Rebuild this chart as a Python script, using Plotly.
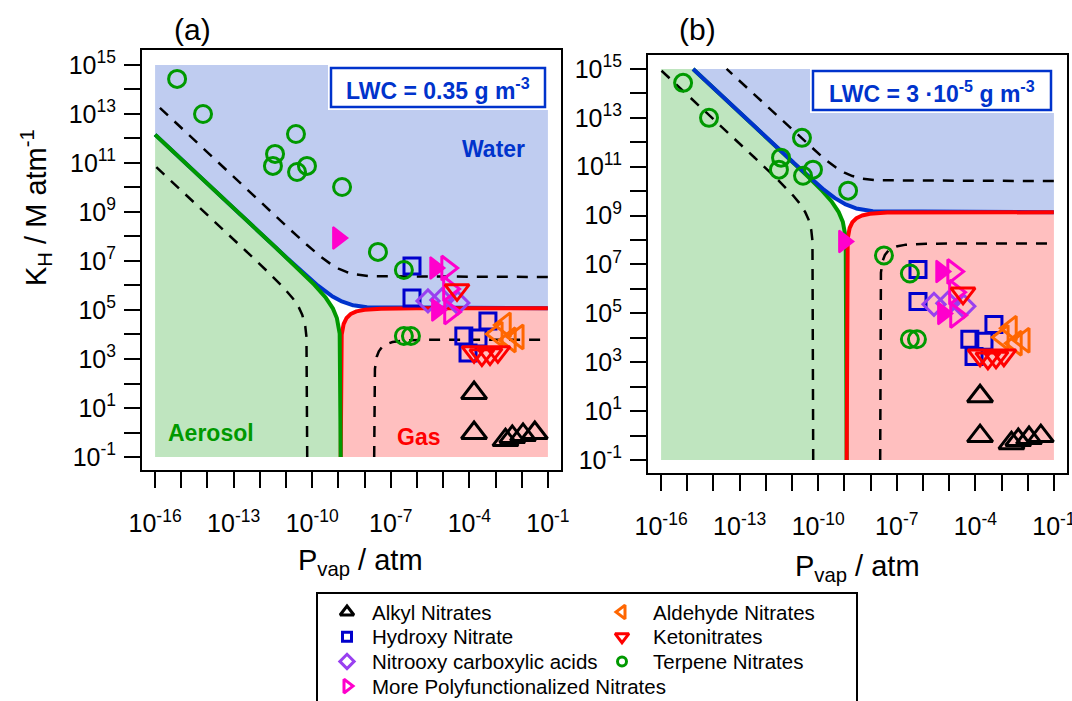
import numpy as np
import plotly.graph_objects as go

W, H = 1072, 701

# ---------------- chart values ----------------
PANEL_LABELS = ["(a)", "(b)"]
LWC_G_M3 = [0.35, 3e-5]                     # liquid water content, panels (a) and (b)
LWC_LABELS = ["LWC = 0.35 g m<sup>-3</sup>", "LWC = 3 ·10<sup>-5</sup> g m<sup>-3</sup>"]
C_OA_UG_M3 = 10.0                            # organic aerosol mass
MOLAR_MASS = 200.0                           # g/mol
TEMP_K = 298.0
R_L_ATM = 0.08206                            # L atm / (mol K)
FRAC_SOLID = 0.5                             # 50 % contours (coloured)
FRAC_DASHED = 0.95                           # 95 % contours (dashed)
REGION_LABELS = ["Water", "Aerosol", "Gas"]

X_TICK_EXP = list(range(-16, 0))
X_LABEL_EXP = [-16, -13, -10, -7, -4, -1]
Y_TICK_EXP = list(range(-1, 16))
Y_LABEL_EXP = [-1, 1, 3, 5, 7, 9, 11, 13, 15]
X_TITLE = "P<sub>vap</sub> / atm"
Y_TITLE = "K<sub>H</sub> / M atm<sup>-1</sup>"

# compound classes: log10(Pvap / atm), log10(KH / M atm-1)
alkyl_logP = [-3.82, -3.82, -2.62, -2.36, -1.95, -1.50]
alkyl_logKH = [1.61, -0.02, -0.31, -0.18, -0.10, -0.02]
hydroxy_logP = [-6.19, -6.19, -3.29, -4.21, -3.67, -4.05]
hydroxy_logKH = [6.80, 5.49, 4.55, 3.94, 3.86, 3.24]
nitrooxy_logP = [-5.58, -5.05, -4.44]
nitrooxy_logKH = [5.37, 5.41, 5.29]
poly_logP = [-4.85, -4.78, -4.74]
poly_logKH = [6.71, 5.86, 4.92]
poly_solid_logP = [-9.02, -5.31, -5.24]
poly_solid_logKH = [7.94, 6.71, 5.00]
aldehyde_logP = [-2.64, -2.95, -2.45, -2.15]
aldehyde_logKH = [4.39, 4.02, 3.78, 3.90]
keto_logP = [-4.47, -3.82, -3.52, -3.21, -2.91]
keto_logKH = [5.82, 3.29, 3.16, 3.20, 3.29]
terpene_logP = [-15.16, -14.17, -11.42, -11.50, -10.62, -10.58, -10.20, -8.86, -7.49, -6.50, -6.50, -6.23]
terpene_logKH = [14.43, 13.00, 11.37, 10.88, 12.18, 10.63, 10.88, 10.02, 7.37, 6.63, 3.94, 3.94]

# ---------------- styles ----------------
FONT = "Arial, Liberation Sans, sans-serif"
BLUE_FILL, GREEN_FILL, PINK_FILL = "#BFCCF0", "#BFE5BF", "#FFBFBF"
BLUE_LINE, GREEN_LINE, RED_LINE = "#0033CC", "#009900", "#FF0000"

SERIES = [
    dict(name="Alkyl Nitrates", P=alkyl_logP, K=alkyl_logKH, sym="triangle-up-open", col="black", size=22, lsize=12, leg=(0, 0)),
    dict(name="Hydroxy Nitrate", P=hydroxy_logP, K=hydroxy_logKH, sym="square-open", col="#0000CC", size=16, lsize=9, leg=(0, 1)),
    dict(name="Nitrooxy carboxylic acids", P=nitrooxy_logP, K=nitrooxy_logKH, sym="diamond-open", col="#9940F0", size=17, lsize=11, leg=(0, 2)),
    dict(name="More Polyfunctionalized Nitrates", P=poly_logP, K=poly_logKH, sym="triangle-right-open", col="#FF00CC", size=21, lsize=12, leg=(0, 3),
         solidP=poly_solid_logP, solidK=poly_solid_logKH, solidsym="triangle-right"),
    dict(name="Aldehyde Nitrates", P=aldehyde_logP, K=aldehyde_logKH, sym="triangle-left-open", col="#FF6600", size=21, lsize=12, leg=(1, 0)),
    dict(name="Ketonitrates", P=keto_logP, K=keto_logKH, sym="triangle-down-open", col="#FF0000", size=21, lsize=12, leg=(1, 1)),
    dict(name="Terpene Nitrates", P=terpene_logP, K=terpene_logKH, sym="circle-open", col="#009900", size=17, lsize=9, leg=(1, 2)),
]

PMIN, PMAX = 10.0 ** X_TICK_EXP[0], 10.0 ** X_TICK_EXP[-1]
KMIN, KMAX = 10.0 ** Y_TICK_EXP[0], 10.0 ** Y_TICK_EXP[-1]
TAU = np.linspace(-26, 26, 10001)

A_ATM = C_OA_UG_M3 * 1e-6 * (R_L_ATM * 1e-3) * TEMP_K / MOLAR_MASS


def partition_curve(phase, frac, A, B):
    """Contour where `phase` holds fraction `frac` (gas : aerosol : water = 1 : A/P : B*KH)."""
    r = frac / (1.0 - frac)
    e = 10.0 ** TAU
    if phase == "aer":
        w = e
        a = r * (1.0 + w)
    elif phase == "wat":
        a = e
        w = r * (1.0 + a)
    else:
        a = 1.0 / (r * (1.0 + e))
        w = e / (r * (1.0 + e))
    return A / a, w / B


def inside(P, K):
    m = (P >= PMIN * 0.999) & (P <= PMAX * 1.001) & (K >= KMIN * 0.999) & (K <= KMAX * 1.001)
    return P[m], K[m]


def clipped(P, K):
    return np.clip(P, PMIN, PMAX), np.clip(K, KMIN, KMAX)


def px(x):
    return x / W


def py(y):
    return 1 - y / H


# panel geometry (pixels)
X_DOMAINS = [(142, 561), (648, 1067)]
Y_DOMAINS = [(50, 470), (55, 473)]
Y_RANGES = [(-1.53, 15.61), (-1.53, 15.57)]
LINE_ORDER = [["wat", "gas", "aer"], ["aer", "wat", "gas"]]
LINE_COLORS = {"wat": BLUE_LINE, "aer": GREEN_LINE, "gas": RED_LINE}

fig = go.Figure()

for i, lwc in enumerate(LWC_G_M3):
    xa, ya = ("x", "y") if i == 0 else ("x2", "y2")
    B = R_L_ATM * TEMP_K * lwc * 1e-6

    # shaded regions
    Pw, Kw = clipped(*partition_curve("wat", FRAC_SOLID, A_ATM, B))
    fig.add_trace(go.Scatter(x=np.r_[Pw, PMIN, PMAX], y=np.r_[Kw, KMAX, KMAX], mode="lines", fill="toself",
                             fillcolor=BLUE_FILL, line=dict(width=0), xaxis=xa, yaxis=ya, hoverinfo="skip"))
    Pa, Ka = clipped(*partition_curve("aer", FRAC_SOLID, A_ATM, B))
    fig.add_trace(go.Scatter(x=np.r_[Pa, PMIN], y=np.r_[Ka, KMIN], mode="lines", fill="toself",
                             fillcolor=GREEN_FILL, line=dict(width=0), xaxis=xa, yaxis=ya, hoverinfo="skip"))
    Pg, Kg = clipped(*partition_curve("gas", FRAC_SOLID, A_ATM, B))
    fig.add_trace(go.Scatter(x=np.r_[Pg, PMAX], y=np.r_[Kg, KMIN], mode="lines", fill="toself",
                             fillcolor=PINK_FILL, line=dict(width=0), xaxis=xa, yaxis=ya, hoverinfo="skip"))

    # 95 % contours
    for ph in ["wat", "aer", "gas"]:
        P, K = inside(*partition_curve(ph, FRAC_DASHED, A_ATM, B))
        fig.add_trace(go.Scatter(x=P, y=K, mode="lines", line=dict(color="black", width=2.5, dash="11px,9px"),
                                 xaxis=xa, yaxis=ya, hoverinfo="skip"))
    # 50 % contours
    for ph in LINE_ORDER[i]:
        P, K = inside(*partition_curve(ph, FRAC_SOLID, A_ATM, B))
        fig.add_trace(go.Scatter(x=P, y=K, mode="lines", line=dict(color=LINE_COLORS[ph], width=4),
                                 xaxis=xa, yaxis=ya, hoverinfo="skip"))

    # compounds
    for s in SERIES:
        fig.add_trace(go.Scatter(x=10.0 ** np.array(s["P"]), y=10.0 ** np.array(s["K"]), mode="markers", name=s["name"],
                                 marker=dict(symbol=s["sym"], size=s["size"], color=s["col"], line=dict(width=3, color=s["col"])),
                                 xaxis=xa, yaxis=ya))
        if "solidP" in s:
            fig.add_trace(go.Scatter(x=10.0 ** np.array(s["solidP"]), y=10.0 ** np.array(s["solidK"]), mode="markers",
                                     name=s["name"],
                                     marker=dict(symbol=s["solidsym"], size=s["size"] - 2, color=s["col"],
                                                 line=dict(width=2, color=s["col"])),
                                     xaxis=xa, yaxis=ya))

# ---------------- legend (drawn in a pixel-space overlay axis) ----------------
LEG_MARK_X = [347, 622]
LEG_TEXT_X = [370, 651]
LEG_ROW_Y0, LEG_ROW_DY = 612, 24.7
for s in SERIES:
    c, r = s["leg"]
    yrow = LEG_ROW_Y0 + r * LEG_ROW_DY
    fig.add_trace(go.Scatter(x=[LEG_MARK_X[c]], y=[yrow], mode="markers", xaxis="x3", yaxis="y3",
                             marker=dict(symbol=s["sym"], size=s["lsize"], color=s["col"], line=dict(width=3, color=s["col"])),
                             hoverinfo="skip"))

annotations = []
for s in SERIES:
    c, r = s["leg"]
    annotations.append(dict(x=LEG_TEXT_X[c], y=LEG_ROW_Y0 + r * LEG_ROW_DY, xref="x3", yref="y3", text=s["name"],
                            showarrow=False, xanchor="left", yanchor="middle", font=dict(size=20.5, color="black")))

# panel labels, titles
for lab, xc in zip(PANEL_LABELS, [192, 697]):
    annotations.append(dict(x=px(xc), y=py(30), xref="paper", yref="paper", text=lab, showarrow=False,
                            xanchor="center", yanchor="middle", font=dict(size=30)))
annotations.append(dict(x=px(36), y=py(208), xref="paper", yref="paper", text=Y_TITLE, textangle=-90,
                        showarrow=False, xanchor="center", yanchor="middle", font=dict(size=29)))
for xc, yc in [(360, 562), (857, 568)]:
    annotations.append(dict(x=px(xc), y=py(yc), xref="paper", yref="paper", text=X_TITLE, showarrow=False,
                            xanchor="center", yanchor="middle", font=dict(size=29)))

# LWC boxes
shapes = []
BOXES = [(331, 68, 545, 107), (813, 71, 1051, 110)]
for (x0, y0, x1, y1), txt in zip(BOXES, LWC_LABELS):
    shapes.append(dict(type="rect", xref="paper", yref="paper", x0=px(x0 - 3), x1=px(x1 + 3), y0=py(y1 + 3), y1=py(y0 - 3),
                       fillcolor="white", line=dict(width=0), layer="above"))
    shapes.append(dict(type="rect", xref="paper", yref="paper", x0=px(x0), x1=px(x1), y0=py(y1), y1=py(y0),
                       fillcolor="white", line=dict(width=2.5, color=BLUE_LINE), layer="above"))
    annotations.append(dict(x=px((x0 + x1) / 2), y=py((y0 + y1) / 2 + 1), xref="paper", yref="paper", text="<b>" + txt + "</b>",
                            showarrow=False, xanchor="center", yanchor="middle", font=dict(size=23, color=BLUE_LINE)))

# region labels in panel (a)
for txt, (xc, yc), col in zip(REGION_LABELS, [(493, 149), (211, 433), (418, 437)], [BLUE_LINE, GREEN_LINE, RED_LINE]):
    annotations.append(dict(x=px(xc), y=py(yc), xref="paper", yref="paper", text="<b>" + txt + "</b>", showarrow=False,
                            xanchor="center", yanchor="middle", font=dict(size=23, color=col)))

# legend frame
shapes.append(dict(type="rect", xref="paper", yref="paper", x0=px(317), x1=px(857), y0=py(720), y1=py(593),
                   line=dict(width=2, color="black"), fillcolor="rgba(0,0,0,0)"))


def tick_text(exps, labelled):
    return [("10<sup>%d</sup>" % e) if e in labelled else "" for e in exps]


axis_common = dict(type="log", showgrid=False, zeroline=False, showline=True, linecolor="black", linewidth=2,
                   mirror=True, ticks="outside", ticklen=16, tickwidth=2, tickcolor="black", automargin=False,
                   tickfont=dict(size=25, color="black"), tickmode="array", ticklabeloverflow="allow")

layout = dict(width=W, height=H, margin=dict(l=0, r=0, t=0, b=0, pad=0, autoexpand=False), paper_bgcolor="white",
              plot_bgcolor="rgba(0,0,0,0)", showlegend=False, font=dict(family=FONT, color="black"),
              annotations=annotations, shapes=shapes)
for i in range(2):
    sfx = "" if i == 0 else "2"
    layout["xaxis" + sfx] = dict(axis_common, domain=[px(X_DOMAINS[i][0]), px(X_DOMAINS[i][1])],
                                 range=[-16.5, -0.5], tickvals=[10.0 ** e for e in X_TICK_EXP],
                                 ticktext=tick_text(X_TICK_EXP, X_LABEL_EXP), anchor="y" + sfx,
                                 ticklabelstandoff=14)
    layout["yaxis" + sfx] = dict(axis_common, domain=[py(Y_DOMAINS[i][1]), py(Y_DOMAINS[i][0])],
                                 range=list(Y_RANGES[i]), tickvals=[10.0 ** e for e in Y_TICK_EXP],
                                 ticktext=tick_text(Y_TICK_EXP, Y_LABEL_EXP), anchor="x" + sfx,
                                 ticklabelstandoff=3)
layout["xaxis3"] = dict(domain=[0, 1], range=[0, W], visible=False, anchor="y3", fixedrange=True, automargin=False)
layout["yaxis3"] = dict(domain=[0, 1], range=[H, 0], visible=False, anchor="x3", fixedrange=True, automargin=False)

fig.update_layout(**layout)
fig.write_html("out.html", config={"displayModeBar": False},
               post_script="document.body.style.margin='0';")
